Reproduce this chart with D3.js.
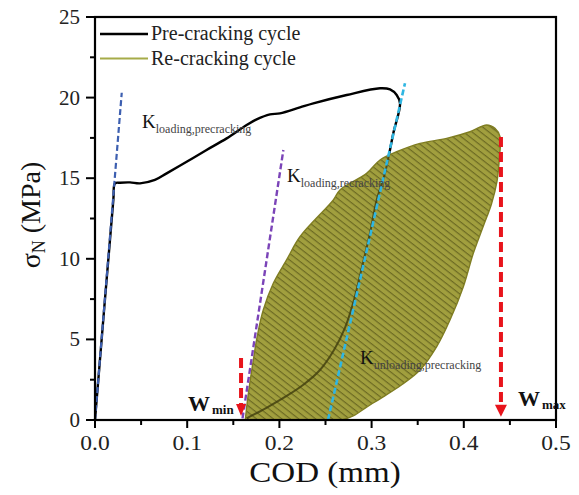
<!DOCTYPE html>
<html><head><meta charset="utf-8">
<script src="https://cdn.jsdelivr.net/npm/d3@7"></script>
<style>
html,body{margin:0;padding:0;background:#fff;}
</style></head>
<body><svg id="c" width="579" height="495" font-family="'Liberation Serif', 'Times New Roman', Times, 'DejaVu Serif', serif"></svg>
<script>
// ---- data ----
const preX = [0,0.0199,0.0217,0.0271,0.038,0.0488,0.065,0.0777,0.0994,0.121,0.1428,0.1645,0.1753,0.1898,0.2006,0.2223,0.2368,0.273,0.3091,0.32,0.3272,0.3308,0.3235,0.3145,0.3055,0.2983,0.2896,0.2809,0.2711,0.2592,0.244,0.2256,0.2061,0.1855,0.1649];
const preY = [0,13.65,14.68,14.72,14.74,14.68,14.89,15.3,16.02,16.75,17.47,18.3,18.65,18.96,19.02,19.39,19.64,20.16,20.58,20.51,20.16,19.64,17.78,15.3,13.65,11.6,9.49,7.44,5.71,4.34,3.1,2.17,1.43,0.74,0.12];
const reX = [0.163,0.166,0.1717,0.176,0.1825,0.1934,0.2078,0.2223,0.2585,0.2657,0.2946,0.3091,0.3272,0.3525,0.3814,0.4067,0.4248,0.4338,0.4393,0.4385,0.436,0.430,0.421,0.4103,0.3995,0.385,0.3706,0.3525,0.333,0.313,0.2946,0.28,0.268];
const reY = [0,1.5,3.72,5.2,6.82,8.48,9.93,11.37,13.65,14.27,15.3,16.13,16.64,17.16,17.47,17.88,18.3,18.09,17.57,16.2,14.8,13.4,12.0,10.34,8.27,6.2,4.55,3.1,2.2,1.45,0.8,0.25,0];
const kLoadPreX = [0,0.029], kLoadPreY = [0,20.3];
const kLoadReX = [0.160,0.2043], kLoadReY = [0.1,16.75];
const kUnloadX = [0.2527,0.3362], kUnloadY = [0,20.89];
const wMinX = 0.1584, wMaxX = 0.4403;
const wMinY = [3.85,0.25], wMaxY = [17.56,0.2];
const xTicks = [0,0.1,0.2,0.3,0.4,0.5];
const xTickLabels = ["0.0","0.1","0.2","0.3","0.4","0.5"];
const yTicks = [0,5,10,15,20,25];
const legendLabels = ["Pre-cracking cycle","Re-cracking cycle"];

// ---- layout ----
const svg = d3.select("#c");
const L=95,R=556,T=17,B=420;
const x = d3.scaleLinear().domain([0,0.5]).range([L,R]);
const y = d3.scaleLinear().domain([0,25]).range([B,T]);
const pts = (xs,ys)=>xs.map((v,i)=>[x(v),y(ys[i])]);

const defs = svg.append("defs");
const pat = defs.append("pattern").attr("id","hatch").attr("patternUnits","userSpaceOnUse")
  .attr("width",8).attr("height",5.2).attr("patternTransform","rotate(38)");
pat.append("rect").attr("width",8).attr("height",5.2).attr("fill","#a19f3e");
pat.append("line").attr("x1",0).attr("x2",8).attr("y1",0.6).attr("y2",0.6).attr("stroke","#6a6822").attr("stroke-width",1.15);

const rePath = d3.line().curve(d3.curveCatmullRom.alpha(0.5))(pts(reX,reY)) + "Z";
defs.append("clipPath").attr("id","reclip").append("path").attr("d",rePath);

const preLine = d3.line().curve(d3.curveCatmullRom.alpha(0.5));
// pre-cracking curve
svg.append("path").attr("d",preLine(pts(preX,preY))).attr("fill","none").attr("stroke","#000").attr("stroke-width",2.4).attr("stroke-linejoin","round");
// re-cracking area
svg.append("path").attr("d",rePath).attr("fill","url(#hatch)").attr("stroke","#7f7d22").attr("stroke-width",1.4);
// pre-cracking curve seen through area
svg.append("path").attr("d",preLine(pts(preX,preY))).attr("clip-path","url(#reclip)").attr("fill","none").attr("stroke","#3e3c0c").attr("stroke-width",2).attr("opacity",0.8);

// dashed stiffness lines
const dl = d3.line();
svg.append("path").attr("d",dl(pts(kLoadPreX,kLoadPreY))).attr("stroke","#3d5fb0").attr("stroke-width",2.2).attr("stroke-dasharray","6,3").attr("fill","none");
svg.append("path").attr("d",dl(pts(kLoadReX,kLoadReY))).attr("stroke","#7b44b8").attr("stroke-width",2.4).attr("stroke-dasharray","6,3").attr("fill","none");
svg.append("path").attr("d",dl(pts(kUnloadX,kUnloadY))).attr("stroke","#2fb6e2").attr("stroke-width",2.6).attr("stroke-dasharray","6,3").attr("fill","none");

// red arrows
function arrow(xv, ys, hw){
  const x0=x(xv), y0=y(ys[0]), y1=y(ys[1]);
  svg.append("line").attr("x1",x0).attr("x2",x0).attr("y1",y0).attr("y2",y1-10)
    .attr("stroke","#e8141c").attr("stroke-width",4).attr("stroke-dasharray","10,5");
  svg.append("path").attr("d",`M${x0-hw},${y1-12}L${x0+hw},${y1-12}L${x0},${y1}Z`).attr("fill","#e8141c");
}
arrow(wMinX,wMinY,5);
arrow(wMaxX,wMaxY,6);

// axes frame
svg.append("rect").attr("x",L).attr("y",T).attr("width",R-L).attr("height",B-T).attr("fill","none").attr("stroke","#000").attr("stroke-width",2.2);
const ax = svg.append("g");
const xMinor = d3.range(0,0.5001,0.05), yMinor = d3.range(0,25.001,2.5);
xMinor.forEach(v=>{const maj=Math.abs(v*10-Math.round(v*10))<1e-6;
  ax.append("line").attr("x1",x(v)).attr("x2",x(v)).attr("y1",B).attr("y2",B+(maj?8:5)).attr("stroke","#000").attr("stroke-width",2);});
yMinor.forEach(v=>{const maj=Math.abs(v/5-Math.round(v/5))<1e-6;
  ax.append("line").attr("x1",L).attr("x2",L-(maj?9:5)).attr("y1",y(v)).attr("y2",y(v)).attr("stroke","#000").attr("stroke-width",2);});
xTicks.forEach((v,i)=>ax.append("text").attr("transform",`translate(${x(v)},450) scale(1.12,1)`).attr("text-anchor","middle").attr("font-size",21).attr("fill","#222").text(xTickLabels[i]));
yTicks.forEach(v=>ax.append("text").attr("x",80).attr("y",y(v)+7).attr("text-anchor","end").attr("font-size",21).attr("fill","#222").text(v));

// axis titles
svg.append("text").attr("transform","translate(325,482) scale(1.14,1)").attr("text-anchor","middle").attr("font-size",29).attr("fill","#111").text("COD (mm)");
const yl = svg.append("text").attr("transform","translate(40,215) rotate(-90)").attr("text-anchor","middle").attr("font-size",28).attr("fill","#111");
yl.append("tspan").text("σ");
yl.append("tspan").attr("font-size",18).attr("dy",5).text("N");
yl.append("tspan").attr("dy",-5).text(" (MPa)");

// legend
svg.append("line").attr("x1",100).attr("x2",148).attr("y1",34).attr("y2",34).attr("stroke","#000").attr("stroke-width",2.6);
svg.append("line").attr("x1",100).attr("x2",148).attr("y1",58.5).attr("y2",58.5).attr("stroke","#a6ab48").attr("stroke-width",2);
svg.append("text").attr("x",151).attr("y",40).attr("font-size",20).attr("fill","#222").text(legendLabels[0]);
svg.append("text").attr("x",151).attr("y",65).attr("font-size",20).attr("fill","#222").text(legendLabels[1]);

// K labels
function klabel(px,py,sub){
  const t = svg.append("text").attr("x",px).attr("y",py).attr("font-size",19).attr("fill","#111");
  t.append("tspan").text("K");
  t.append("tspan").attr("font-size",12).attr("dy",5).attr("fill","#444").text(sub);
}
klabel(142,128,"loading,precracking");
klabel(287,182,"loading,recracking");
klabel(360,364,"unloading,precracking");

// W labels
function wlabel(px,py,sub){
  const t = svg.append("text").attr("x",px).attr("y",py).attr("font-size",22).attr("font-weight","bold").attr("fill","#111");
  t.append("tspan").text("W");
  t.append("tspan").attr("font-size",13).attr("dx",2).attr("dy",3).text(sub);
}
wlabel(188,411,"min");
wlabel(518,406,"max");
</script></body></html>
